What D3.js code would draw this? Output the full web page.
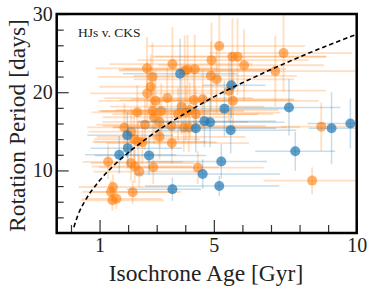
<!DOCTYPE html>
<html>
<head>
<meta charset="utf-8">
<script src="https://cdn.jsdelivr.net/npm/d3@7"></script>
<style>
  html, body { margin: 0; padding: 0; background: #fff; }
  svg { display: block; }
  text { font-family: "Liberation Serif", "DejaVu Serif", serif; }
</style>
</head>
<body>
<svg id="chart" width="374" height="293"></svg>
<script>
// ---- data ----
const xMajorTicks = [1, 5, 10];
const xMinorTicks = [0, 2, 3, 4, 6, 7, 8, 9];
const yMajorTicks = [10, 20, 30];
const yMinorTicks = [4, 6, 8, 12, 14, 16, 18, 22, 24, 26, 28];

// orange series (CKS): age [Gyr], period [days], age err low, age err high, period err
const ckAge = [5.19,3.55,2.66,4.08,4.33,3.98,4.92,5.65,5.83,6.06,7.44,7.15,4.9,5.1,2.85,2.79,5.53,5.67,4.3,4.61,3.37,2.67,2.96,3.87,4.16,4.37,4.02,3.75,3.16,2.32,2.86,2.91,2.59,1.87,2.11,2.21,2.35,2.5,3.53,3.1,3.52,3.95,4.12,3.1,1.3,2.1,2.23,2.39,2.88,1.47,1.4,1.45,1.59,2.16,4.44,8.44,8.76];
const ckPer = [25.9,23.6,23.05,22.9,22.95,22.76,24.1,24.55,24.55,23.45,25.0,22.7,22.1,21.63,21.95,20.7,20.2,18.9,19.0,19.1,19.25,19.86,18.9,18.15,17.7,17.2,17.4,17.2,17.6,17.43,17.6,16.8,15.85,15.5,14.96,14.0,13.68,13.6,13.5,14.3,15.7,15.5,15.5,16.2,11.1,10.95,10.5,9.85,10.4,7.88,7.26,6.18,6.37,7.22,10.36,8.7,15.6];
const ckAgeLo = [2.5,2.2,1.8,2.4,2.5,2.3,2.6,2.8,2.9,3.0,2.6,3.2,2.7,2.9,1.9,1.8,2.8,3.0,2.6,2.5,2.2,2.0,2.0,2.5,2.6,2.4,2.2,2.3,2.1,1.6,1.9,1.8,1.7,1.3,1.5,1.4,1.6,1.7,2.3,2.2,2.4,2.5,2.6,2.0,0.9,1.4,1.5,1.6,1.9,1.2,1.0,1.1,1.2,1.4,2.4,1.7,1.4];
const ckAgeHi = [3.0,2.8,2.5,3.0,3.2,2.9,3.4,3.3,3.1,2.8,2.4,2.8,3.0,2.7,2.4,2.6,3.4,3.0,3.5,3.2,3.0,2.8,2.6,2.9,3.1,2.7,3.3,2.8,2.9,2.5,2.7,2.6,2.4,2.0,2.2,2.3,2.4,2.6,2.7,3.0,3.3,3.6,3.9,3.1,2.6,2.2,2.0,2.1,2.3,1.9,2.2,1.8,1.6,1.7,2.3,1.6,1.3];
const ckPerErr = [4.5,4.7,4.0,4.4,4.4,4.5,4.8,4.9,4.9,4.6,5.0,4.5,4.4,4.3,4.4,4.1,4.0,3.8,3.8,3.8,3.9,4.0,3.8,3.6,3.5,3.4,3.5,3.4,3.5,3.5,3.5,3.4,3.2,3.1,3.0,2.8,2.7,2.7,2.7,2.9,3.1,3.1,3.1,3.2,2.2,2.2,2.1,2.0,2.1,1.6,1.5,1.3,1.3,1.5,2.1,1.7,3.1];

// blue series (HJs)
const hjAge = [3.82,5.61,5.37,7.63,4.67,4.87,4.37,5.59,9.12,9.78,7.85,5.26,4.61,5.19,3.55,1.97,1.99,1.69,2.73];
const hjPer = [22.35,20.9,17.9,18.05,16.3,16.15,15.4,15.15,15.4,16.0,12.45,11.15,9.54,8.0,7.6,14.5,12.85,12.0,11.9];
const hjAgeLo = [2.0,1.0,2.4,2.0,2.3,2.5,2.4,2.6,0.8,1.5,1.4,2.6,2.4,2.6,1.6,1.4,1.3,1.2,1.9];
const hjAgeHi = [2.0,1.2,2.2,1.8,2.5,2.6,2.8,2.3,1.2,0.5,1.4,1.6,2.7,2.1,1.0,1.6,1.9,2.0,2.0];
const hjPerErr = [4.5,4.2,3.6,3.6,3.3,3.2,3.1,3.0,4.6,3.2,2.5,2.2,1.9,1.3,1.5,2.9,2.6,2.4,2.4];

// dashed model curve
const modelAge = [0.1,0.25,0.5,1,1.5,2,3,4,5,6,7,8,9,10];
const modelPer = [2.75,4.35,6.15,8.7,10.65,12.25,15.0,17.3,19.4,21.2,22.9,24.5,26.0,27.4];

const labelText = "HJs v. CKS";
const xLabel = "Isochrone Age [Gyr]";
const yLabel = "Rotation Period [days]";

// ---- drawing ----
const svg = d3.select("#chart");
const L = 56.7, R = 356.7, T = 14, B = 233;
const x = d3.scaleLinear().domain([-0.5, 10]).range([L, R]);
const y = d3.scaleLinear().domain([2, 30]).range([B, T]);

const orange = "#ff7f0e", blue = "#1f77b4";

const defs = svg.append("defs");
defs.append("clipPath").attr("id", "clip").append("rect")
  .attr("x", L).attr("y", T).attr("width", R - L).attr("height", B - T);

const plot = svg.append("g").attr("clip-path", "url(#clip)");

function series(ages, pers, lo, hi, perr, color, errOp, ptOp, errW) {
  const d = ages.map((a, i) => ({a, p: pers[i], lo: lo[i], hi: hi[i], pe: perr[i]}));
  const g = plot.append("g");
  g.selectAll("line.h").data(d).join("line")
    .attr("x1", v => x(v.a - v.lo)).attr("x2", v => x(v.a + v.hi))
    .attr("y1", v => y(v.p)).attr("y2", v => y(v.p))
    .attr("stroke", color).attr("stroke-opacity", errOp).attr("stroke-width", errW);
  g.selectAll("line.v").data(d).join("line")
    .attr("x1", v => x(v.a)).attr("x2", v => x(v.a))
    .attr("y1", v => y(v.p - v.pe)).attr("y2", v => y(v.p + v.pe))
    .attr("stroke", color).attr("stroke-opacity", errOp).attr("stroke-width", errW);
  g.selectAll("circle").data(d).join("circle")
    .attr("cx", v => x(v.a)).attr("cy", v => y(v.p)).attr("r", 5)
    .attr("fill", color).attr("fill-opacity", ptOp);
}
series(ckAge, ckPer, ckAgeLo, ckAgeHi, ckPerErr, orange, 0.26, 0.6, 1.8);
series(hjAge, hjPer, hjAgeLo, hjAgeHi, hjPerErr, blue, 0.25, 0.7, 1.5);

const line = d3.line().x((d, i) => x(modelAge[i])).y((d, i) => y(modelPer[i])).curve(d3.curveMonotoneX);
plot.append("path").datum(modelAge).attr("d", line)
  .attr("fill", "none").attr("stroke", "#000").attr("stroke-width", 1.6)
  .attr("stroke-dasharray", "4.5,3");

// axes with inward ticks
const tickColor = "#333";
function styleAxis(g, fs) {
  g.select(".domain").remove();
  g.selectAll("line").attr("stroke", tickColor).attr("stroke-width", 1.2);
  g.selectAll("text").attr("fill", "#222").style("font-size", fs + "px")
    .style("font-family", '"Liberation Serif", "DejaVu Serif", serif');
}
svg.append("g").attr("transform", `translate(0,${B})`)
  .call(d3.axisBottom(x).tickValues(xMinorTicks).tickSize(-8).tickFormat(""))
  .call(g => styleAxis(g, 18));
svg.append("g").attr("transform", `translate(0,${B})`)
  .call(d3.axisBottom(x).tickValues(xMajorTicks).tickSize(-13).tickPadding(5).tickFormat(d3.format("d")))
  .call(g => styleAxis(g, 20));
svg.append("g").attr("transform", `translate(${L},0)`)
  .call(d3.axisLeft(y).tickValues(yMinorTicks).tickSize(-7).tickFormat(""))
  .call(g => styleAxis(g, 18));
svg.append("g").attr("transform", `translate(${L},0)`)
  .call(d3.axisLeft(y).tickValues(yMajorTicks).tickSize(-12).tickPadding(4).tickFormat(d3.format("d")))
  .call(g => styleAxis(g, 20));

// frame
svg.append("rect").attr("x", L).attr("y", T).attr("width", R - L).attr("height", B - T)
  .attr("fill", "none").attr("stroke", "#000").attr("stroke-width", 2.5);

svg.append("text").attr("x", 78).attr("y", 37).text(labelText)
  .style("font-size", "13.5px").attr("fill", "#222");

svg.append("text").attr("x", 206).attr("y", 281).attr("text-anchor", "middle")
  .style("font-size", "23.5px").attr("fill", "#222").text(xLabel);

svg.append("text").attr("transform", `translate(25,${(T + B) / 2 + 2}) rotate(-90)`)
  .attr("text-anchor", "middle").style("font-size", "23.5px").attr("fill", "#222").text(yLabel);
</script>
</body>
</html>
